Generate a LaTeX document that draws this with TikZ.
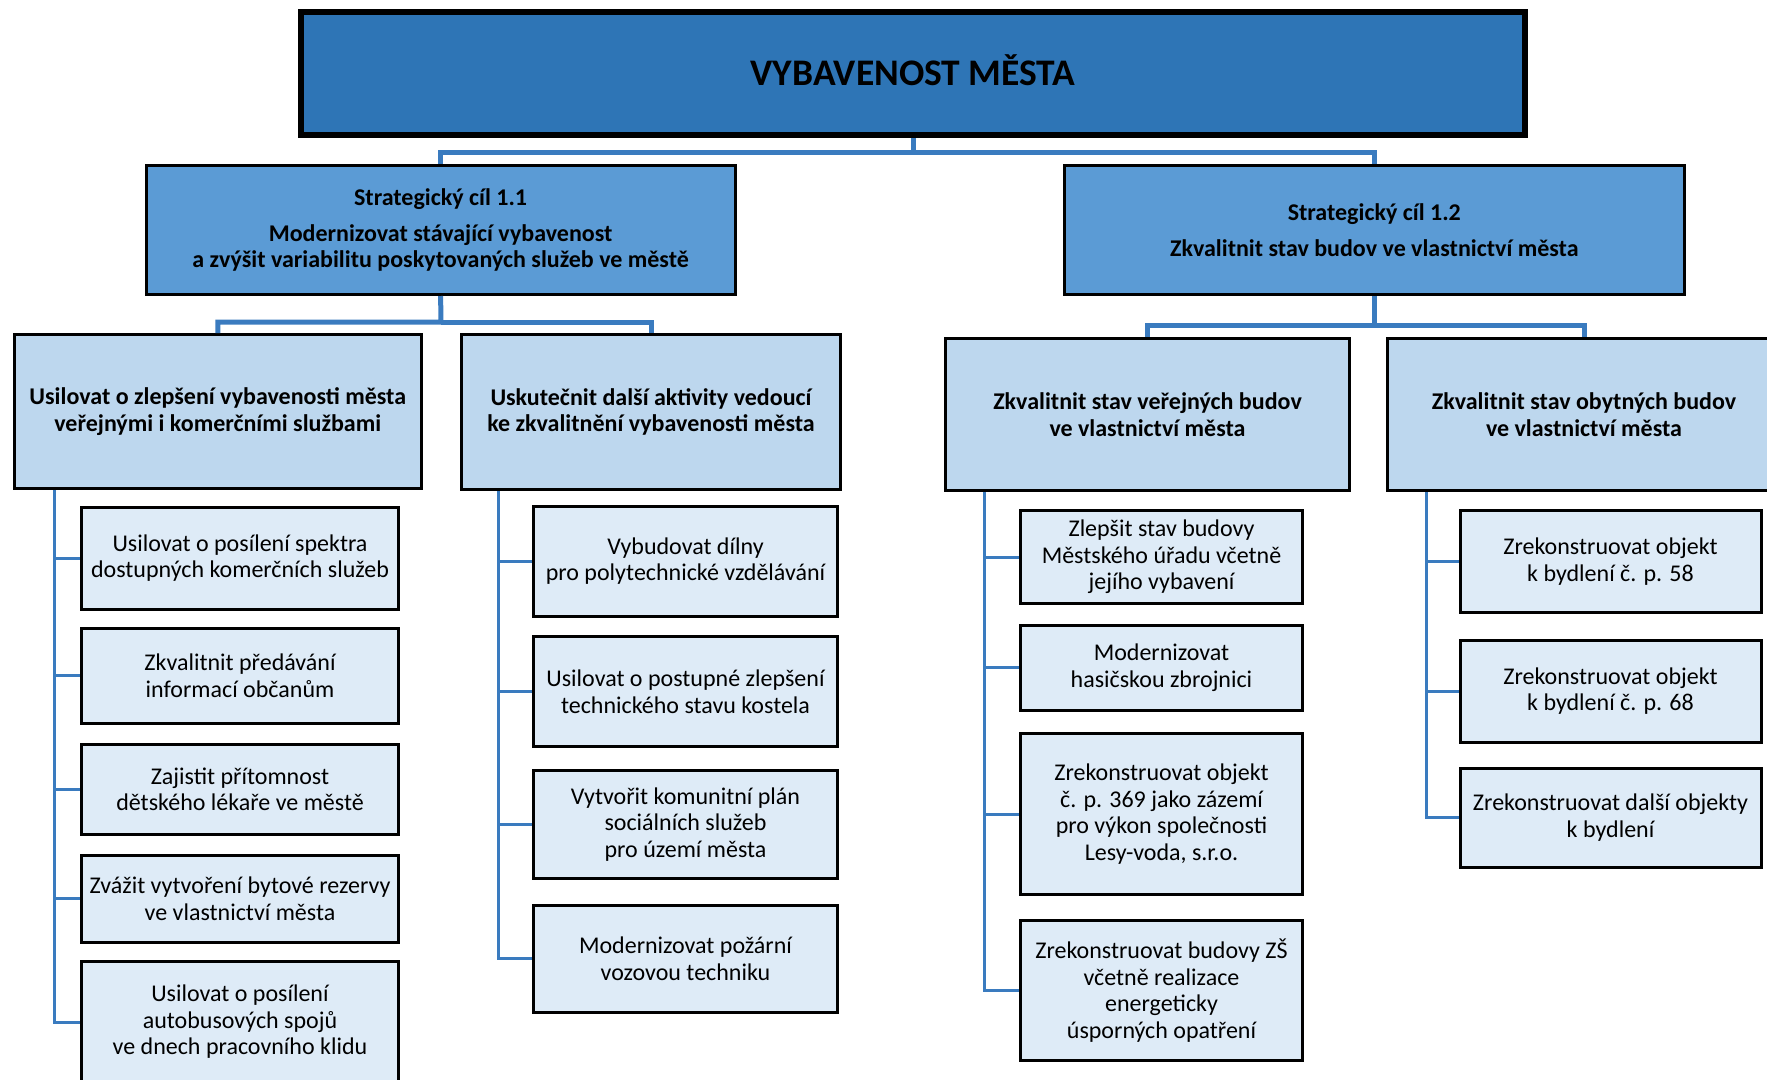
\documentclass[tikz,border=0pt]{standalone}
\usepackage{fontspec}
\setmainfont{Carlito}
\usetikzlibrary{calc}
\definecolor{topblue}{HTML}{2E75B6}
\definecolor{scblue}{HTML}{5B9BD5}
\definecolor{lvtwo}{HTML}{BDD7EE}
\definecolor{lvthree}{HTML}{DEEBF7}
\definecolor{linkblue}{HTML}{3A7BBF}
\tikzset{
  topbox/.style={draw=black, line width=6pt, fill=topblue, align=center, inner sep=0pt,
    font=\fontsize{37.5}{42}\selectfont\bfseries},
  scbox/.style={draw=black, line width=3pt, fill=scblue, align=center, inner sep=0pt,
    font=\fontsize{24}{26}\selectfont\bfseries},
  twobox/.style={draw=black, line width=3pt, fill=lvtwo, align=center, inner sep=0pt,
    font=\fontsize{24}{26.5}\selectfont\bfseries},
  threebox/.style={draw=black, line width=3pt, fill=lvthree, align=center, inner sep=0pt,
    font=\fontsize{24}{26.5}\selectfont},
  bigconn/.style={draw=linkblue, line width=5pt},
  conn/.style={draw=linkblue, line width=3pt},
}
\begin{document}
\begin{tikzpicture}[x=1pt, y=-1pt]
\useasboundingbox (0,0) rectangle (1767,1079);
\begin{scope}
\clip (0,0) rectangle (1767,1079);
% top
\node[topbox, minimum width=1224, minimum height=123] (top) at (913,73.5) {\raisebox{6pt}{VYBAVENOST MĚSTA}};
% strategic goals
\node[scbox, minimum width=589, minimum height=129] (sc1) at (440.6,230)
  {Strategický cíl 1.1\\[10pt]Modernizovat stávající vybavenost\\a zvýšit variabilitu poskytovaných služeb ve městě};
\node[scbox, minimum width=620, minimum height=129] (sc2) at (1374.3,230)
  {Strategický cíl 1.2\\[10pt]Zkvalitnit stav budov ve vlastnictví města};
% level two
\node[twobox, minimum width=407, minimum height=154] (l1) at (217.8,411.5)
  {Usilovat o zlepšení vybavenosti města\\veřejnými i komerčními službami};
\node[twobox, minimum width=379, minimum height=155] (l2) at (651,412)
  {Uskutečnit další aktivity vedoucí\\ke zkvalitnění vybavenosti města};
\node[twobox, minimum width=404, minimum height=152] (r1) at (1147.5,414.5)
  {Zkvalitnit stav veřejných budov\\ve vlastnictví města};
\node[twobox, minimum width=393, minimum height=152] (r2) at (1584,414.5)
  {Zkvalitnit stav obytných budov\\ve vlastnictví města};
% connectors top
\draw[bigconn] (top.south) -- (913,152) -| (sc1.north);
\draw[bigconn] (913,152) -| (sc2.north);
\draw[bigconn] (sc1.south) -- (441,322) -| (l1.north);
\draw[bigconn] (441,322) -| (l2.north);
\draw[bigconn] (sc2.south) -- (1374.3,325) -| (r1.north);
\draw[bigconn] (1374.3,325) -| (r2.north);
% level three, column LA
\node[threebox, minimum width=316.5, minimum height=102] (la1) at (240,558.3)
  {Usilovat o posílení spektra\\dostupných komerčních služeb};
\node[threebox, minimum width=316.5, minimum height=95] (la2) at (240,675.6)
  {Zkvalitnit předávání\\informací občanům};
\node[threebox, minimum width=316.5, minimum height=90.5] (la3) at (240,789.4)
  {Zajistit přítomnost\\dětského lékaře ve městě};
\node[threebox, minimum width=316.5, minimum height=87.6] (la4) at (240,898.8)
  {Zvážit vytvoření bytové rezervy\\ve vlastnictví města};
\node[threebox, minimum width=316.5, minimum height=121] (la5) at (240,1022)
  {Usilovat o posílení\\autobusových spojů\\ve dnech pracovního klidu};
% column LB
\node[threebox, minimum width=304, minimum height=110] (lb1) at (685.5,561)
  {Vybudovat dílny\\pro polytechnické vzdělávání};
\node[threebox, minimum width=304, minimum height=110.5] (lb2) at (685.5,691.7)
  {Usilovat o postupné zlepšení\\technického stavu kostela};
\node[threebox, minimum width=304, minimum height=108] (lb3) at (685.5,824.5)
  {Vytvořit komunitní plán\\sociálních služeb\\pro území města};
\node[threebox, minimum width=304, minimum height=106.6] (lb4) at (685.5,958.8)
  {Modernizovat požární\\vozovou techniku};
% column RA
\node[threebox, minimum width=282, minimum height=93] (ra1) at (1161.5,557)
  {Zlepšit stav budovy\\Městského úřadu včetně\\jejího vybavení};
\node[threebox, minimum width=282, minimum height=85.3] (ra2) at (1161.5,667.7)
  {Modernizovat\\hasičskou zbrojnici};
\node[threebox, minimum width=282, minimum height=161] (ra3) at (1161.5,814)
  {Zrekonstruovat objekt\\č. p. 369 jako zázemí\\pro výkon společnosti\\Lesy-voda, s.r.o.};
\node[threebox, minimum width=282, minimum height=140.5] (ra4) at (1161.5,990.7)
  {Zrekonstruovat budovy ZŠ\\včetně realizace\\energeticky\\úsporných opatření};
% column RB
\node[threebox, minimum width=301, minimum height=102.5] (rb1) at (1610.5,561.7)
  {Zrekonstruovat objekt\\k bydlení č. p. 58};
\node[threebox, minimum width=301, minimum height=102] (rb2) at (1610.5,691)
  {Zrekonstruovat objekt\\k bydlení č. p. 68};
\node[threebox, minimum width=301, minimum height=99] (rb3) at (1610.5,817.5)
  {Zrekonstruovat další objekty\\k bydlení};
% spines
\coordinate (sa) at (54.5,490);
\coordinate (sb) at (498,491);
\coordinate (sc) at (984.6,492);
\coordinate (sd) at (1426.4,492);
\foreach \b in {la1,la2,la3,la4,la5} \draw[conn] (sa) |- (\b.west);
\foreach \b in {lb1,lb2,lb3,lb4} \draw[conn] (sb) |- (\b.west);
\foreach \b in {ra1,ra2,ra3,ra4} \draw[conn] (sc) |- (\b.west);
\foreach \b in {rb1,rb2,rb3} \draw[conn] (sd) |- (\b.west);
\end{scope}
\end{tikzpicture}
\end{document}
